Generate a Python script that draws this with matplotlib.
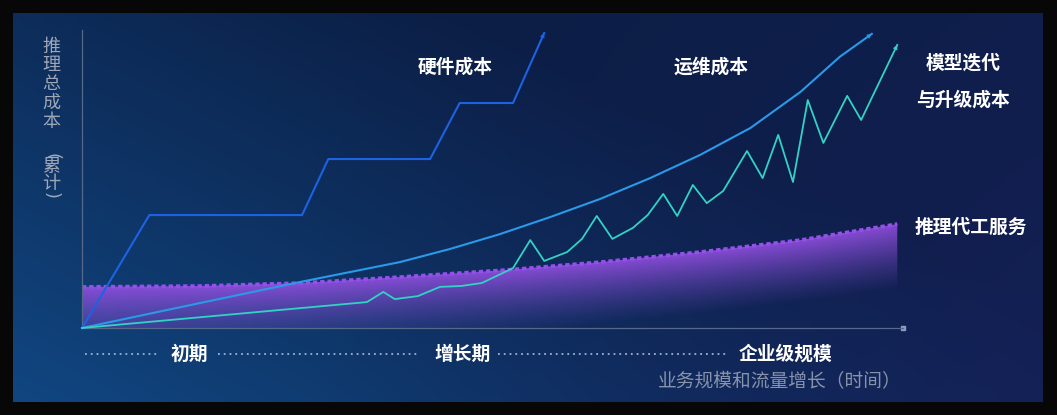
import matplotlib

matplotlib.use("Agg")
import matplotlib.pyplot as plt
import numpy as np
from matplotlib.lines import Line2D
from matplotlib.patches import Polygon

plt.rcParams["font.family"] = ["Noto Sans CJK SC", "DejaVu Sans"]

W, H = 1057, 415

# ---- data (x: time 0-100, y: cumulative cost 0-100) ----
hw_x = [0, 8.2, 26.8, 30.0, 42.4, 46.0, 52.5, 56.3]
hw_y = [0, 37.9, 37.9, 56.7, 56.7, 75.5, 75.5, 99.0]

ops_x = [0, 14.4, 26.5, 38.7, 44.8, 50.9, 57.0, 63.1, 69.2, 75.3, 81.4, 87.5, 92.3, 96.2]
ops_y = [0, 8.4, 15.4, 22.1, 26.5, 31.5, 37.2, 43.3, 50.3, 58.1, 67.1, 79.2, 91.0, 98.7]

mdl_x = [0, 34.7, 36.7, 38.1, 40.9, 43.6, 46.2, 48.7, 52.5, 54.6, 56.3, 59.1,
         60.9, 62.7, 64.6, 67.1, 68.9, 70.8, 72.5, 74.4, 76.1, 78.1, 81.0, 82.9,
         84.8, 86.6, 88.4, 90.3, 93.2, 94.9, 99.3]
mdl_y = [0, 8.7, 12.1, 9.7, 10.7, 13.8, 14.1, 15.1, 20.1, 29.5, 22.5, 25.5,
         29.9, 37.6, 29.9, 33.6, 37.9, 45.0, 37.6, 48.0, 41.9, 46.0, 59.4, 50.3,
         64.8, 49.0, 76.5, 62.1, 77.9, 69.8, 95.0]

svc_x = [0, 14.4, 26.8, 38.7, 51.8, 63.1, 75.3, 87.5, 99.3]
svc_y = [13.8, 14.1, 15.1, 17.1, 19.5, 22.1, 25.5, 29.5, 34.9]

phases = ["初期", "增长期", "企业级规模"]
ylabel_chars = ["推", "理", "总", "成", "本", "（", "累", "计", "）"]
xlabel = "业务规模和流量增长（时间）"

HW_C, OPS_C, MDL_C, SVC_C = "#1e62e2", "#2a9ae8", "#33d2c4", "#9350ea"


def fx(px):
    return px / W


def fy(py):
    return 1 - py / H


fig = plt.figure(figsize=(W / 100, H / 100), dpi=100, facecolor="#070707")

# ---- background panel -------------------------------------------------------
bg = fig.add_axes([0, 0, 1, 1])
bg.set_xlim(0, W); bg.set_ylim(H, 0); bg.axis("off")
gx, gy = np.meshgrid(np.linspace(0, 1, 300), np.linspace(0, 1, 120))
dark = np.array([11, 30, 68]) / 255
blue = np.array([17, 72, 132]) / 255
purp = np.array([24, 32, 92]) / 255
wl = np.clip((1 - gx) * 0.8 + gy * 0.6 - 0.45, 0, 1)[..., None]
wr = np.clip(gx * 1.2 - 0.35, 0, 1)[..., None] * (0.5 + 0.5 * gy[..., None])
img = dark * (1 - wl) + blue * wl
img = img * (1 - wr * 0.8) + purp * wr * 0.8
bg.imshow(np.clip(img, 0, 1), extent=[13, 1043, 402, 14], aspect="auto", zorder=0)

# ---- plot area -------------------------------------------------------------
ax = fig.add_axes([fx(82), fy(328), fx(903) - fx(82), fy(30) - fy(328)])
ax.set_xlim(0, 100); ax.set_ylim(0, 100)
ax.patch.set_alpha(0)
for s in ["top", "right"]:
    ax.spines[s].set_visible(False)
for s in ["left", "bottom"]:
    ax.spines[s].set_color("#56698a"); ax.spines[s].set_linewidth(0.9)
ax.set_xticks([]); ax.set_yticks([])
ax.plot([1], [0], "s", ms=3, color="#8a9cc0", transform=ax.transAxes, clip_on=False)

# service fill with gradient (strong on the left, fading towards bottom-right)
poly = Polygon([(svc_x[0], 0)] + list(zip(svc_x, svc_y)) + [(svc_x[-1], 0)],
               closed=True, facecolor="none", edgecolor="none")
ax.add_patch(poly)
top = max(svc_y)
u, v = np.meshgrid(np.linspace(0, 100, 400), np.linspace(0, top, 200))
local_top = np.interp(u, svc_x, svc_y)
depth = np.clip(1 - v / local_top, 0, 1)
k = 0.35 + (u / 100) ** 1.3 * 1.25
alpha = np.clip(1 - depth * k, 0, 1) * 0.9
c_top = np.array([150, 80, 228]) / 255
c_bot = np.array([92, 72, 180]) / 255
rgb = c_top * (1 - depth[..., None]) + c_bot * depth[..., None]
grad = np.dstack([rgb, alpha])
gim = ax.imshow(grad, extent=[0, 100, 0, top], origin="lower", aspect="auto", zorder=1)
gim.set_clip_path(poly)
ax.plot(svc_x, svc_y, color=SVC_C, lw=2.6, ls=(0, (1.2, 0.8)), zorder=2)

# lines
ax.plot(hw_x, hw_y, color=HW_C, lw=1.5, zorder=3, clip_on=False)
ax.plot(ops_x, ops_y, color=OPS_C, lw=1.5, zorder=3, clip_on=False)
ax.plot(mdl_x, mdl_y, color=MDL_C, lw=1.3, zorder=3, clip_on=False)
for xs, ys, c in [(hw_x, hw_y, HW_C), (ops_x, ops_y, OPS_C), (mdl_x, mdl_y, MDL_C)]:
    ax.annotate("", xy=(xs[-1], ys[-1]), xytext=(xs[-2], ys[-2]),
                arrowprops=dict(arrowstyle="-|>", color=c, lw=0, mutation_scale=9,
                                shrinkA=0, shrinkB=0), annotation_clip=False, zorder=4)

# ---- texts ------------------------------------------------------------------
lab = dict(color="white", fontsize=13.5, weight="bold", ha="center", va="center")
fig.text(fx(455), fy(67), "硬件成本", **lab)
fig.text(fx(711), fy(67), "运维成本", **lab)
fig.text(fx(963), fy(63), "模型迭代", **lab)
fig.text(fx(963), fy(100), "与升级成本", **lab)
fig.text(fx(971), fy(227), "推理代工服务", **lab)

for cx, name in zip([189, 463, 786], phases):
    fig.text(fx(cx), fy(354), name, **lab)
for a, b in [(85, 160), (218, 420), (498, 727)]:
    fig.add_artist(Line2D([fx(a), fx(b)], [fy(354), fy(354)], color="#9fb3d6",
                          lw=1.3, ls=(0, (1, 2.2)), transform=fig.transFigure))

fig.text(fx(902), fy(382), xlabel, color="#8793aa", fontsize=13.5,
         ha="right", va="center")

# vertical y label, one glyph per line; brackets turned to read vertically
for py, ch in zip([47, 65, 84, 103, 122, 156, 167, 184, 196], ylabel_chars):
    if ch in "（）":
        fig.text(fx(51), fy(py), {"（": "(", "）": ")"}[ch], color="#9ea7b8",
                 fontsize=13, ha="center", va="center", rotation=-90,
                 family="DejaVu Sans")
    else:
        fig.text(fx(51), fy(py), ch, color="#9ea7b8", fontsize=13, ha="center",
                 va="center")

fig.savefig("out.png", dpi=100, facecolor=fig.get_facecolor())
